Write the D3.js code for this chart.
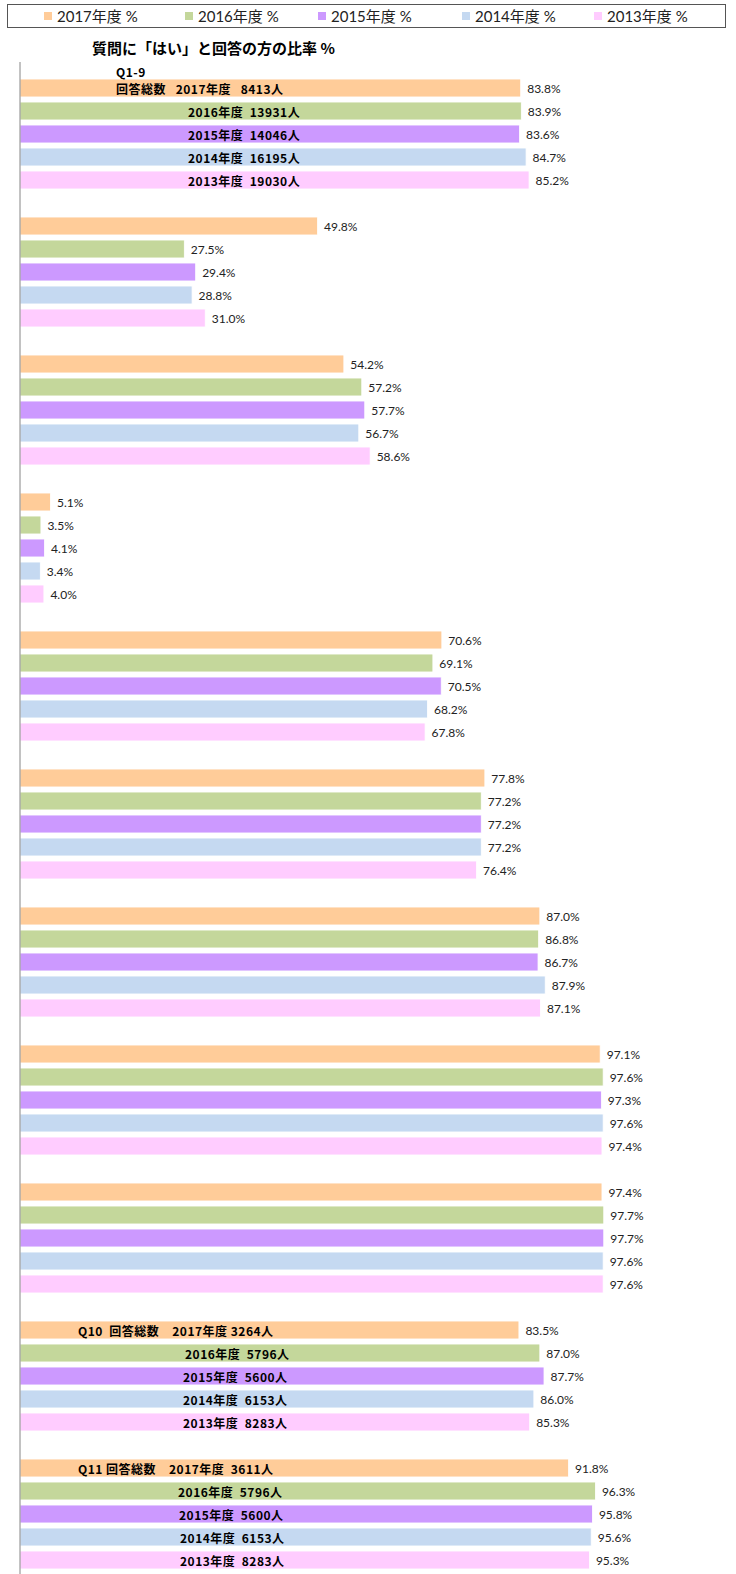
<!DOCTYPE html>
<html>
<head>
<meta charset="utf-8">
<script src="https://cdn.jsdelivr.net/npm/d3@7"></script>
<style>
  html, body { margin: 0; padding: 0; background: #fff; }
  svg { display: block; }
</style>
</head>
<body>
<div id="chart"></div>
<script>
// Questions (no category labels are shown on the chart)
const categories = ["Q1", "Q2", "Q3", "Q4", "Q5", "Q6", "Q7", "Q8", "Q9", "Q10", "Q11"];
const seriesNames = ["2017年度 %", "2016年度 %", "2015年度 %", "2014年度 %", "2013年度 %"];
const seriesColors = ["#FFCC99", "#C4D79B", "#CC99FF", "#C5D9F1", "#FFCCFF"];

const v2017 = [83.8, 49.8, 54.2, 5.1, 70.6, 77.8, 87.0, 97.1, 97.4, 83.5, 91.8];
const v2016 = [83.9, 27.5, 57.2, 3.5, 69.1, 77.2, 86.8, 97.6, 97.7, 87.0, 96.3];
const v2015 = [83.6, 29.4, 57.7, 4.1, 70.5, 77.2, 86.7, 97.3, 97.7, 87.7, 95.8];
const v2014 = [84.7, 28.8, 56.7, 3.4, 68.2, 77.2, 87.9, 97.6, 97.6, 86.0, 95.6];
const v2013 = [85.2, 31.0, 58.6, 4.0, 67.8, 76.4, 87.1, 97.4, 97.6, 85.3, 95.3];
const seriesValues = [v2017, v2016, v2015, v2014, v2013];

const titleText = "質問に「はい」と回答の方の比率 %";

// Respondent counts written inside the bars (Q1-9, Q10, Q11)
const noteQ1to9 = ["回答総数   2017年度   8413人", "2016年度  13931人", "2015年度  14046人", "2014年度  16195人", "2013年度  19030人"];
const noteQ10 = ["Q10  回答総数    2017年度 3264人", "2016年度  5796人", "2015年度  5600人", "2014年度  6153人", "2013年度  8283人"];
const noteQ11 = ["Q11 回答総数    2017年度  3611人", "2016年度  5796人", "2015年度  5600人", "2014年度  6153人", "2013年度  8283人"];

const W = 736, H = 1574;
const labelFont = "Lato, 'Noto Sans', 'Noto Sans CJK JP', sans-serif";
const cjkFont = "'Noto Sans CJK JP', sans-serif";

// keep the runs of spaces that separate the parts of a note
const keepSpaces = s => s.replace(/ /g, "\u00A0");

const svg = d3.select("#chart").append("svg")
    .attr("width", W)
    .attr("height", H);

// Scales
const x = d3.scaleLinear().domain([0, 100]).range([20, 617.5]);
const y0 = d3.scaleBand().domain(categories).range([65, 65 + categories.length * 138]);
const y1 = d3.scaleBand().domain(seriesNames).range([0, y0.bandwidth()])
    .paddingInner(0.22).paddingOuter(0.61);

// Legend
svg.append("rect")
    .attr("x", 7.5).attr("y", 4.5)
    .attr("width", 718).attr("height", 23)
    .attr("fill", "#fff")
    .attr("stroke", "#555")
    .attr("stroke-width", 1);

const legendX = [44, 185, 318, 462, 594];
const legend = svg.append("g").selectAll("g")
    .data(seriesNames)
    .enter().append("g")
    .attr("transform", (d, i) => `translate(${legendX[i]},16)`);
legend.append("rect")
    .attr("x", 0).attr("y", -4)
    .attr("width", 8).attr("height", 8)
    .attr("fill", (d, i) => seriesColors[i]);
legend.append("text")
    .attr("x", 13).attr("y", 0)
    .attr("dominant-baseline", "central")
    .attr("font-family", labelFont)
    .attr("font-size", "15px")
    .attr("fill", "#222")
    .text(d => d);

// Title
svg.append("text")
    .attr("x", 92)
    .attr("y", 47)
    .attr("dominant-baseline", "central")
    .attr("font-family", cjkFont)
    .attr("font-weight", "700")
    .attr("font-size", "15px")
    .attr("fill", "#000")
    .text(keepSpaces(titleText));

// Bars
const rows = [];
categories.forEach((c, ci) => {
    seriesNames.forEach((s, si) => {
        rows.push({ cat: c, series: s, si: si, value: seriesValues[si][ci] });
    });
});

const g = svg.append("g");
g.selectAll("rect.bar")
    .data(rows)
    .enter().append("rect")
    .attr("class", "bar")
    .attr("x", x(0))
    .attr("y", d => y0(d.cat) + y1(d.series))
    .attr("width", d => x(d.value) - x(0))
    .attr("height", y1.bandwidth())
    .attr("fill", d => seriesColors[d.si])
    .attr("stroke", "#fff")
    .attr("stroke-width", 0.8);

// Value labels
g.selectAll("text.val")
    .data(rows)
    .enter().append("text")
    .attr("class", "val")
    .attr("x", d => x(d.value) + 6.5)
    .attr("y", d => y0(d.cat) + y1(d.series) + y1.bandwidth() / 2)
    .attr("dominant-baseline", "central")
    .attr("font-family", labelFont)
    .attr("font-size", "12px")
    .attr("fill", "#222")
    .text(d => d.value.toFixed(1) + "%");

// Vertical axis line
svg.append("line")
    .attr("x1", x(0)).attr("x2", x(0))
    .attr("y1", 62).attr("y2", H)
    .attr("stroke", "#868686")
    .attr("stroke-width", 1);

// Notes inside bars
const notes = [
    { cat: "Q1", texts: noteQ1to9, xs: [116, 188, 188, 188, 188] },
    { cat: "Q10", texts: noteQ10, xs: [78, 185, 183, 183, 183] },
    { cat: "Q11", texts: noteQ11, xs: [78, 178, 179, 180, 180] }
];
const noteG = svg.append("g")
    .attr("font-family", cjkFont)
    .attr("font-weight", "700")
    .attr("font-size", "12px")
    .attr("letter-spacing", "0.5px")
    .attr("fill", "#000");
notes.forEach(n => {
    n.texts.forEach((t, si) => {
        noteG.append("text")
            .attr("x", n.xs[si])
            .attr("y", y0(n.cat) + y1(seriesNames[si]) + y1.bandwidth() / 2)
            .attr("dominant-baseline", "central")
            .text(keepSpaces(t));
    });
});
noteG.append("text")
    .attr("x", 116)
    .attr("y", y0("Q1") + y1(seriesNames[0]) - 8)
    .attr("dominant-baseline", "central")
    .text("Q1-9");
</script>
</body>
</html>
